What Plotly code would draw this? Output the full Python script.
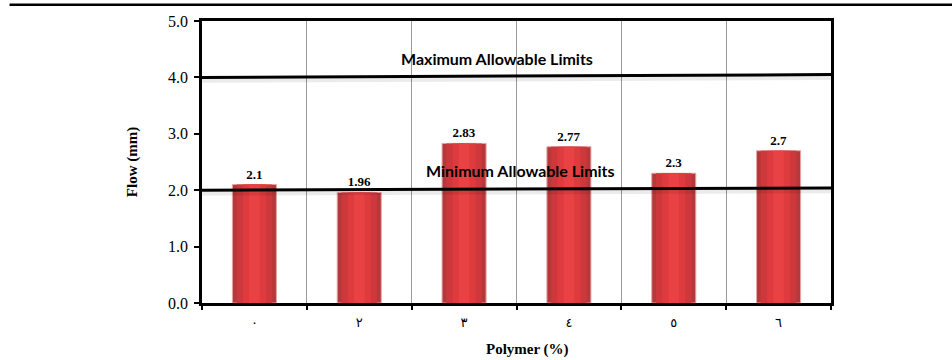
import plotly.graph_objects as go

# Polymer content categories (Arabic-Indic numerals) and measured flow values
categories = ["٠", "٢", "٣", "٤", "٥", "٦"]
flow_mm = [2.1, 1.96, 2.83, 2.77, 2.3, 2.7]
value_labels = ["2.1", "1.96", "2.83", "2.77", "2.3", "2.7"]

# Allowable limit lines (left end, right end)
max_limit = [4.0, 4.05]
min_limit = [2.0, 2.04]

y_ticks = [0, 1, 2, 3, 4, 5]
y_tick_text = ["0.0", "1.0", "2.0", "3.0", "4.0", "5.0"]

serif = "Liberation Serif, Times New Roman, serif"
sans = "Lato, Carlito, Open Sans, sans-serif"

fig = go.Figure()

# Layered bars give a shaded cylinder-like red fill
fig.add_trace(go.Bar(
    x=categories, y=flow_mm, width=0.42,
    marker=dict(color="#b5383a", line=dict(color="#e9a3a3", width=1)),
    text=["<b>" + t + "</b>" for t in value_labels], textposition="outside",
    textfont=dict(family=serif, size=13, color="black"),
    cliponaxis=False, hoverinfo="skip",
))
fig.add_trace(go.Bar(
    x=categories, y=flow_mm, width=0.34,
    marker=dict(color="#cc383b", line=dict(width=0)), hoverinfo="skip",
))
fig.add_trace(go.Bar(
    x=categories, y=flow_mm, width=0.22,
    marker=dict(color="#de3b3e", line=dict(width=0)), hoverinfo="skip",
))
fig.add_trace(go.Bar(
    x=categories, y=flow_mm, width=0.1,
    marker=dict(color="#e84244", line=dict(width=0)), hoverinfo="skip",
))

# Limit lines with a soft shadow beneath
shapes = []
for lim in (max_limit, min_limit):
    shapes.append(dict(type="line", xref="paper", yref="y", x0=0, x1=1,
                       y0=lim[0] - 0.06, y1=lim[1] - 0.06,
                       line=dict(color="rgba(0,0,0,0.08)", width=4), layer="above"))
    shapes.append(dict(type="line", xref="paper", yref="y", x0=0, x1=1,
                       y0=lim[0], y1=lim[1],
                       line=dict(color="black", width=3), layer="above"))
# Rule across the top of the page
shapes.append(dict(type="line", xref="paper", yref="paper",
                   x0=-0.306, x1=1.2, y0=1.058, y1=1.058,
                   line=dict(color="black", width=2.5)))

annotations = [
    dict(text="<b>Maximum Allowable Limits</b>", xref="paper", yref="y",
         x=0.469, y=4.34, xanchor="center", showarrow=False,
         font=dict(family=sans, size=16, color="black")),
    dict(text="<b>Minimum Allowable Limits</b>", xref="paper", yref="y",
         x=0.506, y=2.35, xanchor="center", showarrow=False,
         font=dict(family=sans, size=16, color="black")),
    dict(text="<b>Flow (mm)</b>", xref="paper", yref="paper",
         x=-0.111, y=0.5, xanchor="center", yanchor="middle",
         textangle=-90, showarrow=False,
         font=dict(family=serif, size=15, color="black")),
    dict(text="<b>Polymer (%)</b>", xref="paper", yref="paper",
         x=0.518, y=-0.165, xanchor="center", yanchor="middle", showarrow=False,
         font=dict(family=serif, size=15, color="black")),
]

fig.update_layout(
    width=952, height=360,
    margin=dict(l=202, r=121, t=21, b=57),
    paper_bgcolor="white", plot_bgcolor="white",
    barmode="overlay", showlegend=False,
    shapes=shapes, annotations=annotations,
    xaxis=dict(
        type="category", tickson="boundaries",
        showgrid=True, gridcolor="#9a9a9a", gridwidth=1,
        ticks="outside", ticklen=4, tickwidth=2, tickcolor="black",
        showline=True, linecolor="black", linewidth=2.5, mirror=True,
        tickfont=dict(family="DejaVu Serif, DejaVu Sans, serif", size=13, color="black"),
        ticklabelstandoff=6,
        zeroline=False,
    ),
    yaxis=dict(
        range=[0, 5], tickvals=y_ticks, ticktext=y_tick_text,
        showgrid=False, zeroline=False,
        ticks="outside", ticklen=5, tickwidth=2, tickcolor="black",
        showline=True, linecolor="black", linewidth=2.5, mirror=True,
        tickfont=dict(family=serif, size=16, color="black"),
        ticklabelstandoff=3,
    ),
)

fig.write_html("out.html")
